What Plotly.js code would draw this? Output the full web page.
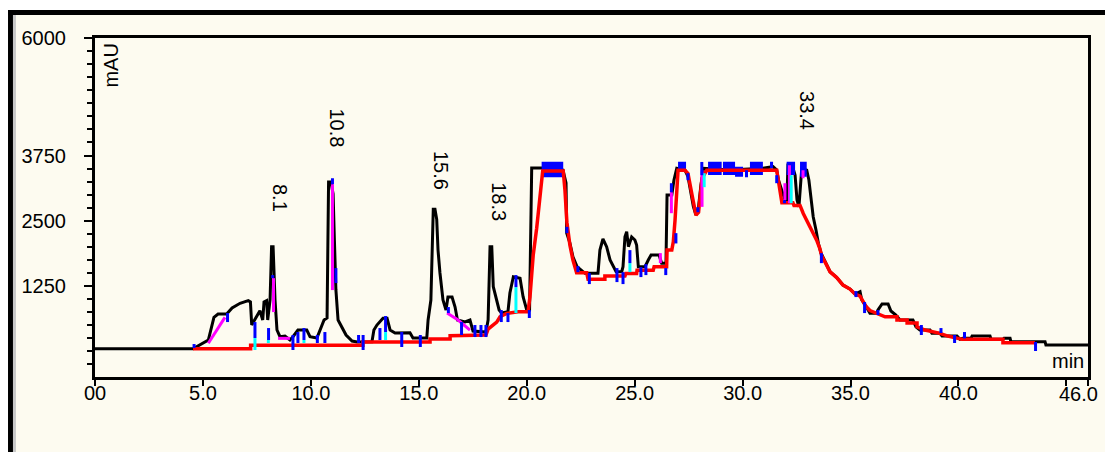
<!DOCTYPE html>
<html>
<head>
<meta charset="utf-8">
<script src="https://cdn.plot.ly/plotly-3.0.1.min.js"></script>
<style>
  html, body { margin: 0; padding: 0; background: #ffffff; }
  #chart { width: 1105px; height: 452px; }
</style>
</head>
<body>
<div id="chart"></div>
<script>
// ---- Data (time in min, signal in mAU) ----
const blackTime = [0,4.54,5.25,5.37,5.51,5.70,6.10,6.35,6.72,7.10,7.20,7.26,7.49,7.64,7.77,7.83,7.95,8.00,8.11,8.18,8.25,8.34,8.43,8.57,8.80,9.03,9.17,9.40,9.81,9.96,10.28,10.61,10.75,10.82,10.93,11.03,11.09,11.16,11.26,11.49,11.63,11.91,12.14,12.83,12.92,13.06,13.34,13.53,13.67,13.90,14.21,14.59,14.73,15.37,15.43,15.56,15.67,15.75,15.83,15.89,15.98,16.12,16.26,16.35,16.54,16.68,16.79,17.14,17.37,17.51,18.11,18.21,18.30,18.38,18.45,18.61,18.72,18.84,19.13,19.22,19.38,19.69,19.83,20.00,20.13,20.17,20.23,20.69,21.68,21.82,21.85,22.00,22.14,22.33,22.51,22.70,23.30,23.39,23.53,23.70,23.86,24.00,24.14,24.40,24.46,24.55,24.63,24.71,24.86,25.01,25.09,25.17,25.48,25.63,25.76,26.13,26.25,26.45,26.50,26.72,26.82,26.95,27.33,27.47,27.59,27.72,27.84,27.96,28.07,28.19,29.42,30.94,31.41,31.58,31.66,31.81,31.96,32.05,32.10,32.29,32.43,32.52,32.61,32.74,32.97,33.07,33.20,33.27,33.40,33.51,33.63,33.82,34.05,34.36,34.65,34.97,35.21,35.44,35.52,35.72,35.90,36.21,36.27,36.46,36.74,36.87,37.10,37.29,37.89,38.03,38.21,38.68,38.77,39.14,39.24,39.93,40.07,40.21,40.58,40.63,41.46,41.51,42.06,42.11,42.39,42.43,44.01,44.05,46.00];
const blackValue = [52,52,218,448,653,716,716,831,921,971,946,505,664,779,601,946,971,601,984,2005,2005,984,410,281,295,218,281,410,410,281,257,601,639,3243,3243,3014,2133,1176,601,410,314,199,180,186,410,505,634,634,410,352,358,358,257,257,601,984,2721,2721,2529,1941,1501,984,793,1042,1042,850,601,563,601,391,371,601,2005,2005,1239,984,793,735,760,1118,1430,1400,1047,793,793,1884,3511,3511,3472,3224,2267,2075,1813,1622,1558,1495,1495,1941,2152,2005,1750,1622,1526,1526,1622,2196,2292,2005,2190,2133,2037,1622,1622,1750,1846,1846,1687,1687,2994,2994,3282,3506,3472,3345,3058,2770,2611,2770,3186,3506,3472,3506,3536,3472,3282,3091,2899,2861,3569,3569,3377,2899,2770,3506,3472,3282,2841,2579,2324,2070,1884,1712,1526,1415,1271,1195,1099,1143,984,860,729,729,793,908,908,773,697,601,601,473,410,410,347,347,295,295,232,251,251,295,295,232,232,251,251,186,186,123,123];

const baselineTime = [4.54,7.21,7.21,12.41,12.41,15.52,15.52,16.45,16.45,18.11,18.21,18.61,18.76,19.07,19.60,20.06,20.15,20.30,20.46,20.61,20.74,21.69,21.77,21.86,22.00,22.14,22.31,22.78,22.84,23.62,23.62,24.55,24.59,25.09,25.11,25.86,25.90,26.48,26.50,26.72,26.79,26.87,26.95,27.01,27.33,27.47,27.66,27.84,27.96,28.03,28.12,28.34,31.58,31.82,32.33,32.38,32.66,32.81,32.97,33.12,33.27,33.43,33.57,33.67,33.82,34.05,34.36,34.65,34.97,35.21,35.44,35.58,35.72,35.90,36.27,36.60,37.15,37.15,37.62,37.62,38.08,38.08,38.45,39.14,39.51,40.16,42.06,42.06,43.54];
const baselineValue = [52,52,117,117,180,180,237,237,300,314,428,562,663,728,759,759,1046,1843,2359,2952,3455,3455,3086,2474,2034,1748,1505,1505,1379,1379,1442,1442,1493,1493,1556,1556,1620,1620,1939,1939,2097,2512,3086,3468,3468,3405,2990,2608,2665,2990,3315,3468,3468,2845,2845,2795,2795,2641,2512,2384,2258,2130,1977,1824,1709,1524,1413,1270,1193,1097,1059,945,858,782,715,663,663,600,600,543,543,472,409,346,294,231,231,166,166];

// peak start/end markers (blue), drop lines (magenta), fill edges (cyan)
const blueTickTime = [4.59,6.14,7.41,8.04,8.23,9.17,9.40,9.68,10.30,10.65,11.00,11.16,12.21,12.42,13.20,13.46,14.21,15.07,16.37,16.98,17.60,17.88,18.11,18.82,19.13,19.50,20.12,21.86,22.37,22.90,24.18,24.46,24.78,25.29,25.52,26.44,26.70,26.91,27.47,27.93,28.11,30.18,31.58,31.94,33.65,35.25,35.65,36.27,38.28,39.19,39.82,40.28,43.57];
const blueTickLow = [65,562,256,218,1403,27,161,218,161,161,3201,1308,161,27,218,371,84,84,734,314,275,275,275,562,562,1231,639,2264,1518,1289,1327,1289,1690,1423,1461,1461,3048,2067,3277,2665,3373,3334,3220,2837,1690,1040,734,696,314,352,161,250,8];
const blueTickHigh = [141,734,562,447,1461,314,371,447,314,371,3315,1595,314,314,447,677,371,314,849,562,505,505,505,792,734,1461,792,2384,1633,1499,1595,1518,1939,1614,1671,1595,3220,2264,3411,2761,3627,3468,3373,2895,1881,1155,945,792,505,447,314,371,180];

const blueBlockStart = [20.69,27.01,28.40,29.09,29.65,30.34,31.27,32.04,32.66];
const blueBlockEnd   = [21.69,27.38,29.03,29.65,30.02,30.94,31.41,32.43,32.97];
const blueBlockLow   = [3333,3473,3377,3377,3345,3377,3506,3377,3345];
const blueBlockHigh  = [3632,3632,3632,3632,3536,3632,3632,3632,3632];

const magentaTime = [8.27,11.00,26.19,26.70,28.12,31.96,32.17,32.80];
const magentaLow  = [753,1174,1690,2646,2767,2895,2837,3315];
const magentaHigh = [1403,3201,1881,3048,3468,3220,3564,3468];
const magentaPathTime  = [5.25,6.02,null,8.48,9.03,null,16.31,16.82,17.37];
const magentaPathValue = [155,652,null,250,250,null,734,600,409];

const cyanTime = [7.41,8.03,9.68,13.46,19.50,24.78,28.22,32.25];
const cyanLow  = [27,161,161,218,734,1518,3144,2837];
const cyanHigh = [256,218,218,371,1231,1690,3411,3373];

const peakLabels = ["8.1","10.8","15.6","18.3","33.4"];
const peakLabelTime = [8.57,11.19,16.03,18.71,32.98];
const peakLabelValue = [2937,4277,3473,2860,4603];

const xTickValues = [0,5,10,15,20,25,30,35,40,45,46];
const xTickText = ["00","5.0","10.0","15.0","20.0","25.0","30.0","35.0","40.0","",""];
const xEndLabel = "46.0";
const yTickValues = [1250,2500,3750,6000];
const yTickText = ["1250","2500","3750","6000"];

// ---- helpers ----
function segments(t, lo, hi) {
  const x = [], y = [];
  for (let i = 0; i < t.length; i++) { x.push(t[i], t[i], null); y.push(lo[i], hi[i], null); }
  return {x, y};
}
function blocks(t0, t1, lo, hi) {
  const x = [], y = [];
  for (let i = 0; i < t0.length; i++) {
    x.push(t0[i], t1[i], t1[i], t0[i], t0[i], null);
    y.push(lo[i], lo[i], hi[i], hi[i], lo[i], null);
  }
  return {x, y};
}

const blueSeg = segments(blueTickTime, blueTickLow, blueTickHigh);
const magSeg = segments(magentaTime, magentaLow, magentaHigh);
const cyanSeg = segments(cyanTime, cyanLow, cyanHigh);
const blk = blocks(blueBlockStart, blueBlockEnd, blueBlockLow, blueBlockHigh);

const cream = '#fdfbf0';
const traces = [
  {x: blackTime, y: blackValue, mode: 'lines', line: {color: '#000000', width: 3}, hoverinfo: 'skip'},
  {x: blk.x, y: blk.y, mode: 'lines', fill: 'toself', fillcolor: '#0000ff', line: {color: '#0000ff', width: 0}, hoverinfo: 'skip'},
  {x: baselineTime, y: baselineValue, mode: 'lines', line: {color: '#ff0000', width: 3.5}, hoverinfo: 'skip'},
  {x: magentaPathTime, y: magentaPathValue, mode: 'lines', line: {color: '#ff00ff', width: 3}, hoverinfo: 'skip'},
  {x: magSeg.x, y: magSeg.y, mode: 'lines', line: {color: '#ff00ff', width: 3}, hoverinfo: 'skip'},
  {x: cyanSeg.x, y: cyanSeg.y, mode: 'lines', line: {color: '#00ffff', width: 3}, hoverinfo: 'skip'},
  {x: blueSeg.x, y: blueSeg.y, mode: 'lines', line: {color: '#0000ff', width: 3}, hoverinfo: 'skip'}
];

const annotations = peakLabels.map((txt, i) => ({
  x: peakLabelTime[i], y: peakLabelValue[i], xref: 'x', yref: 'y',
  text: txt, showarrow: false, textangle: 90, xanchor: 'center', yanchor: 'middle',
  font: {size: 20, color: '#000'}
}));
annotations.push({x: 0.0166, y: 0.92, xref: 'paper', yref: 'paper', text: 'mAU', showarrow: false,
  textangle: -90, xanchor: 'center', yanchor: 'middle', font: {size: 20, color: '#000'}});
annotations.push({x: 0.998, y: 0.047, xref: 'paper', yref: 'paper', text: 'min', showarrow: false,
  xanchor: 'right', yanchor: 'middle', font: {size: 20, color: '#000'}});
annotations.push({x: 45.55, y: -0.05, xref: 'x', yref: 'paper', text: xEndLabel, showarrow: false,
  xanchor: 'center', yanchor: 'middle', font: {size: 20, color: '#000'}});

const shapes = [
  {type: 'rect', xref: 'paper', yref: 'paper', x0: -0.0957, x1: 1.0172, y0: 1.0826, y1: 1.1121, fillcolor: '#ffffff', line: {width: 0}},
  {type: 'rect', xref: 'paper', yref: 'paper', x0: -0.0957, x1: -0.0876, y0: -0.2212, y1: 1.1121, fillcolor: '#ffffff', line: {width: 0}},
  {type: 'rect', xref: 'paper', yref: 'paper', x0: -0.0876, x1: 1.0172, y0: 1.0679, y1: 1.0826, fillcolor: '#000000', line: {width: 0}},
  {type: 'rect', xref: 'paper', yref: 'paper', x0: -0.0876, x1: -0.0826, y0: -0.2212, y1: 1.0826, fillcolor: '#000000', line: {width: 0}},
  {type: 'rect', xref: 'paper', yref: 'paper', x0: -0.0826, x1: -0.0796, y0: -0.2212, y1: 1.0679, fillcolor: '#c8c8c8', line: {width: 0}}
];

const layout = {
  width: 1105, height: 452,
  margin: {l: 95, r: 17, t: 38, b: 75, pad: 0},
  paper_bgcolor: cream, plot_bgcolor: cream,
  showlegend: false, hovermode: false,
  font: {family: 'Liberation Sans, Arial, sans-serif', size: 20, color: '#000'},
  xaxis: {
    range: [0, 46], tickmode: 'array', tickvals: xTickValues, ticktext: xTickText,
    ticks: 'outside', ticklen: 6, tickwidth: 2, tickcolor: '#000', ticklabelstandoff: -10,
    showline: true, linewidth: 3, linecolor: '#000', mirror: true,
    showgrid: false, zeroline: false, tickfont: {size: 20}
  },
  yaxis: {
    range: [-490, 6000], tickmode: 'array', tickvals: yTickValues, ticktext: yTickText,
    ticks: 'outside', ticklen: 8, tickwidth: 2, tickcolor: '#000', ticklabelstandoff: 14,
    minor: {tickmode: 'linear', tick0: 0, dtick: 250, ticks: 'outside', ticklen: 5, tickwidth: 2, tickcolor: '#000', showgrid: false},
    showline: true, linewidth: 3, linecolor: '#000', mirror: true,
    showgrid: false, zeroline: false, tickfont: {size: 20}
  },
  annotations: annotations,
  shapes: shapes
};

Plotly.newPlot('chart', traces, layout, {staticPlot: true, displayModeBar: false});
</script>
</body>
</html>
